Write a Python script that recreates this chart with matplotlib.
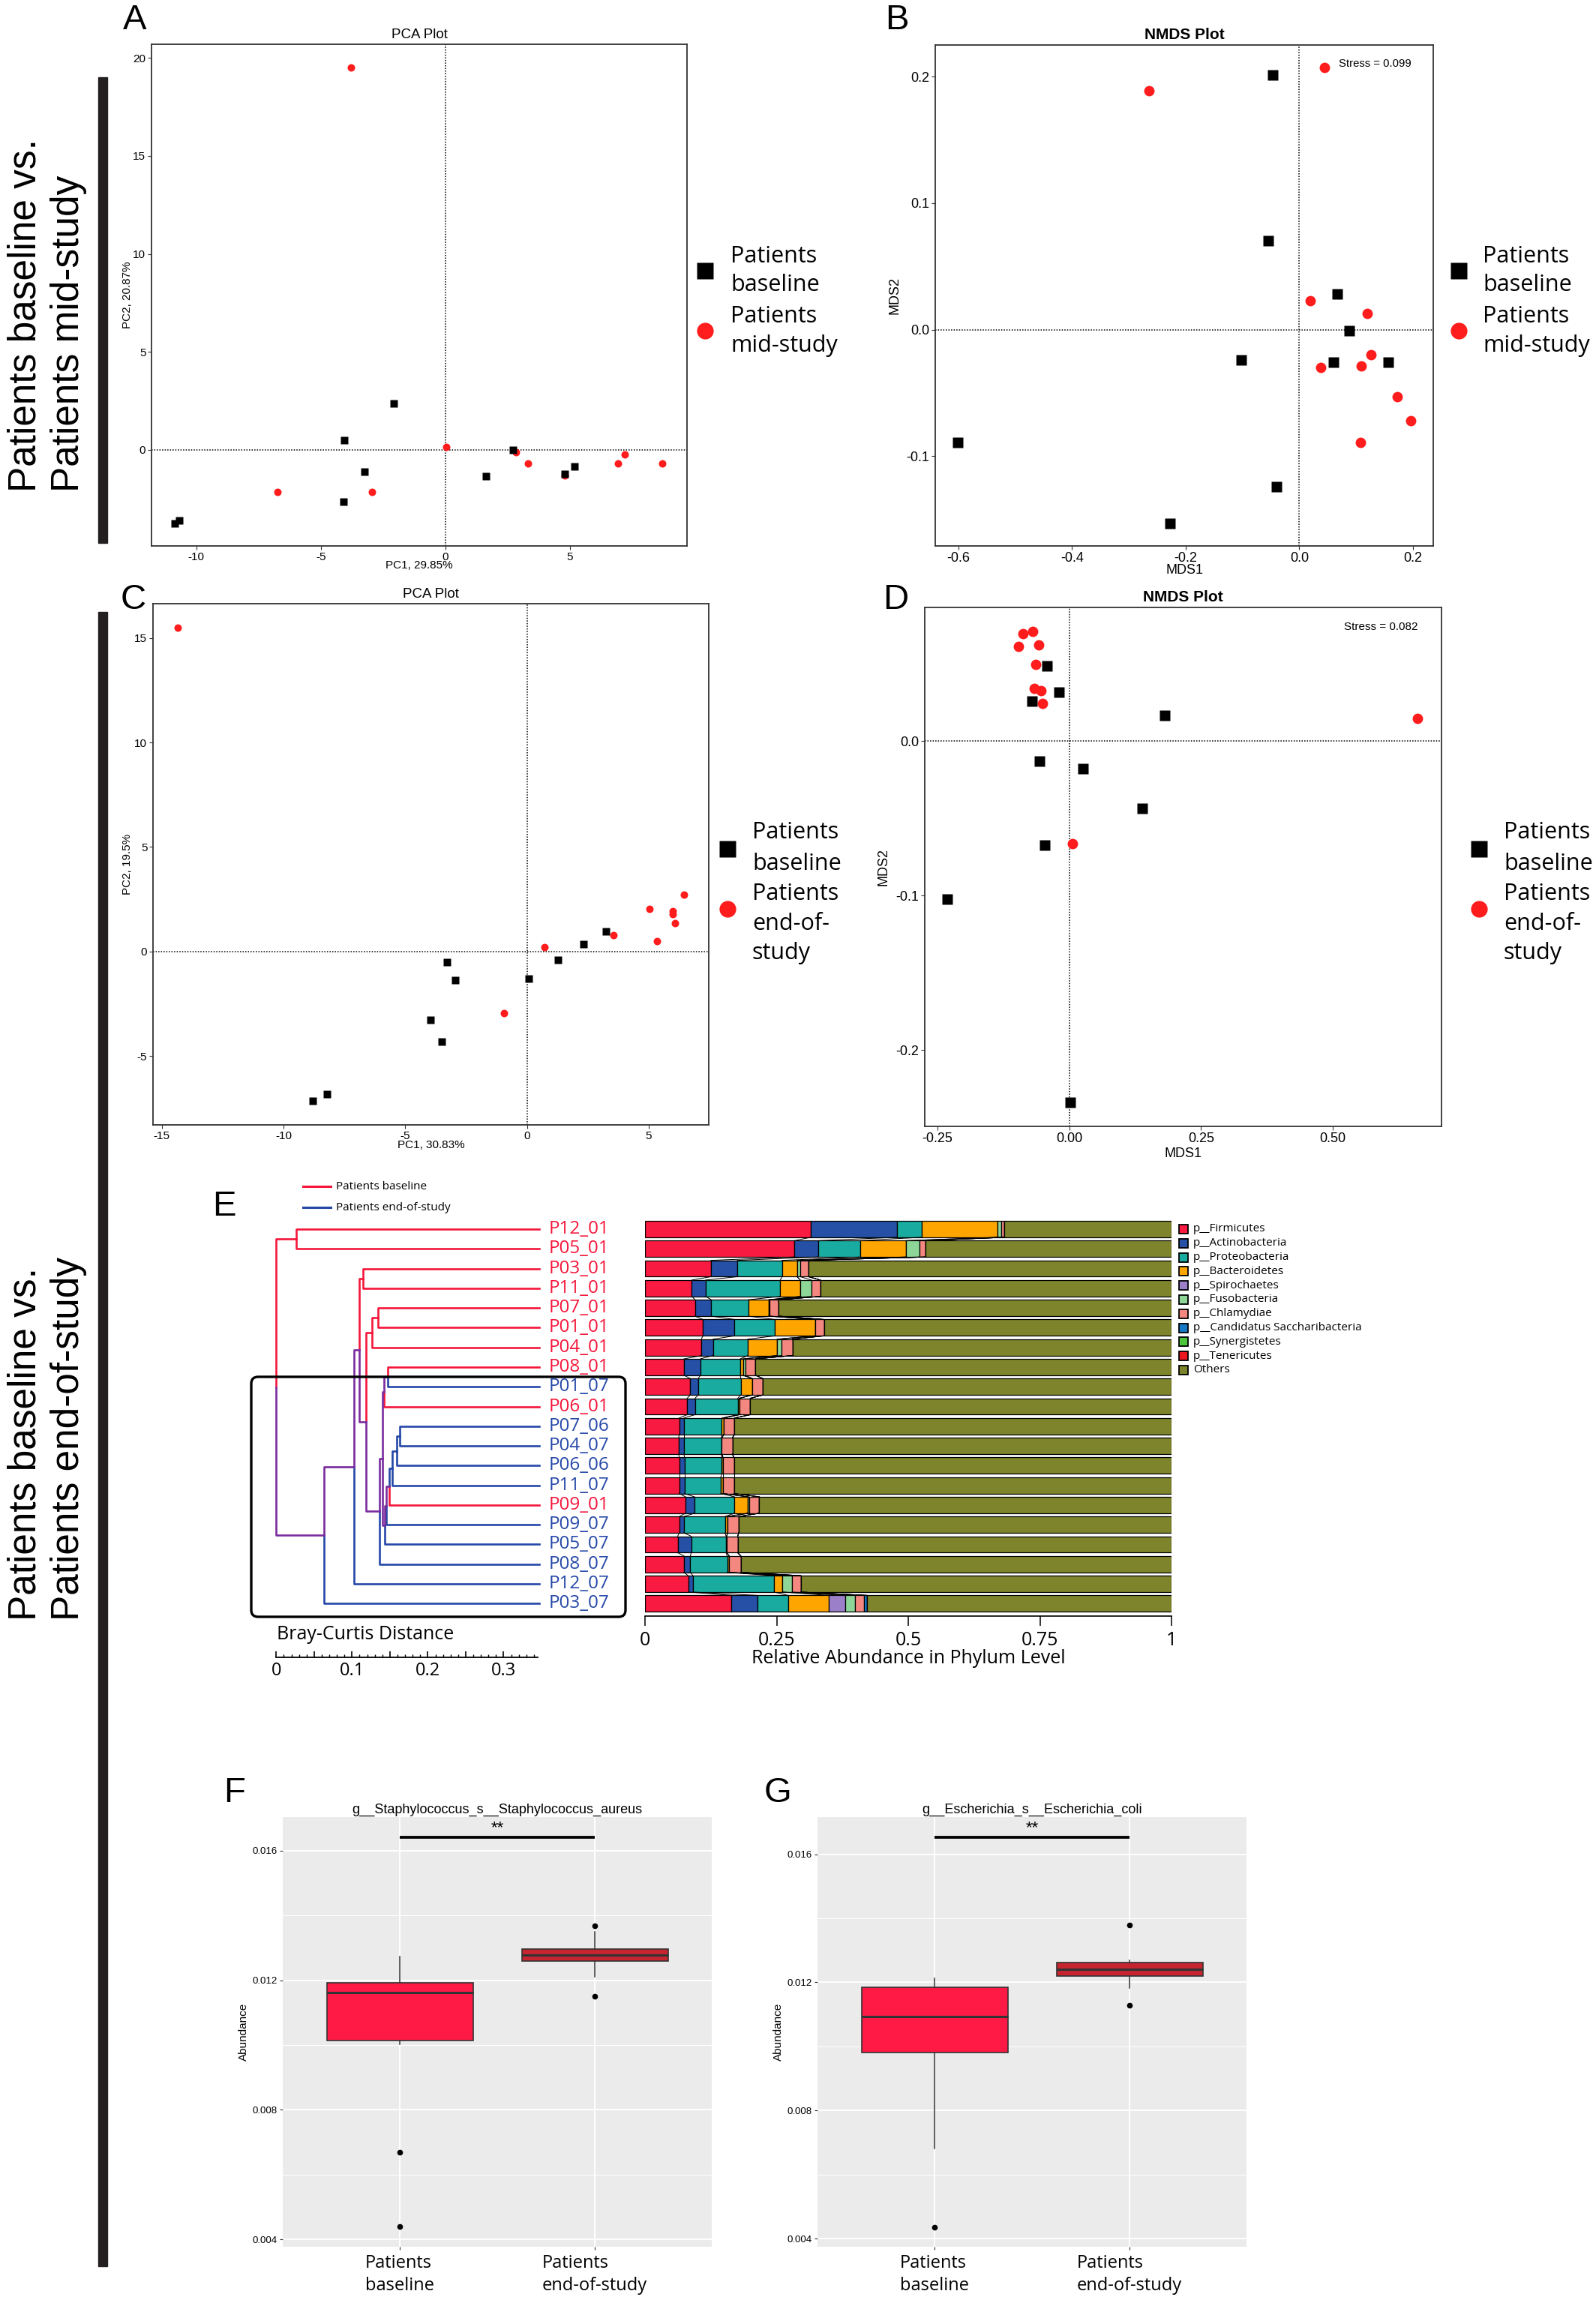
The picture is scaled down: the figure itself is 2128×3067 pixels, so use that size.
import numpy as np
import matplotlib
matplotlib.use("Agg")
import matplotlib.pyplot as plt
from matplotlib.patches import FancyBboxPatch, Rectangle

W, H = 2128, 3067
plt.rcParams["font.family"] = ["Liberation Sans", "DejaVu Sans"]
plt.rcParams["axes.unicode_minus"] = False
OPEN = ["Open Sans", "DejaVu Sans"]

PT_RED = "#FF1C1C"
RED = "#F5173B"
BLUE = "#2548A8"
PURPLE = "#7A2C9E"

# ---------------- A: PCA baseline vs mid-study
a_base_x = [-10.86, -10.70, -4.05, -2.07, -3.25, -4.09, 1.62, 2.70, 4.79, 5.19]
a_base_y = [-3.74, -3.59, 0.49, 2.37, -1.13, -2.65, -1.33, 0.0, -1.22, -0.85]
a_mid_x = [-3.78, -6.75, -2.94, 0.04, 2.84, 3.31, 4.79, 6.93, 7.20, 8.71]
a_mid_y = [19.53, -2.16, -2.14, 0.15, -0.11, -0.70, -1.30, -0.70, -0.23, -0.70]

# ---------------- B: NMDS baseline vs mid-study
b_base_x = [-0.047, -0.054, 0.067, 0.088, -0.102, 0.060, 0.157, -0.602, -0.040, -0.227]
b_base_y = [0.201, 0.070, 0.028, -0.001, -0.024, -0.026, -0.026, -0.089, -0.124, -0.153]
b_mid_x = [0.044, -0.265, 0.019, 0.120, 0.126, 0.038, 0.109, 0.173, 0.196, 0.108]
b_mid_y = [0.207, 0.189, 0.023, 0.013, -0.020, -0.030, -0.029, -0.053, -0.072, -0.089]

# ---------------- C: PCA baseline vs end-of-study
c_base_x = [-8.79, -8.20, -3.97, -3.51, -3.28, -2.93, 0.08, 1.28, 2.34, 3.26]
c_base_y = [-7.16, -6.82, -3.27, -4.32, -0.52, -1.36, -1.30, -0.39, 0.36, 0.95]
c_end_x = [-14.35, -0.94, 0.73, 3.56, 5.04, 5.33, 6.00, 5.98, 6.09, 6.44]
c_end_y = [15.5, -2.95, 0.20, 0.77, 2.02, 0.48, 1.93, 1.77, 1.34, 2.73]

# ---------------- D: NMDS baseline vs end-of-study
d_base_x = [-0.042, -0.019, -0.071, 0.181, -0.057, 0.026, 0.138, -0.047, -0.231, 0.002]
d_base_y = [0.0488, 0.0316, 0.0258, 0.0169, -0.0128, -0.0176, -0.0437, -0.0671, -0.1024, -0.234]
d_end_x = [-0.069, -0.088, -0.096, -0.058, -0.063, -0.067, -0.053, -0.051, 0.661, 0.006]
d_end_y = [0.0713, 0.0696, 0.0616, 0.0626, 0.0498, 0.0343, 0.0326, 0.0244, 0.0150, -0.0664]

# ---------------- E: dendrogram + phylum bars
samples = ["P12_01", "P05_01", "P03_01", "P11_01", "P07_01", "P01_01", "P04_01",
           "P08_01", "P01_07", "P06_01", "P07_06", "P04_07", "P06_06", "P11_07",
           "P09_01", "P09_07", "P05_07", "P08_07", "P12_07", "P03_07"]
# merges: node, left child, right child, distance from root
merges = [
    ("n1", "P12_01", "P05_01", 0.0265),
    ("nA", "P03_01", "P11_01", 0.1145),
    ("nCC", "P07_01", "P01_01", 0.1345),
    ("nC", "nCC", "P04_01", 0.1265),
    ("n8", "P08_01", "P01_07", 0.147),
    ("n9", "n8", "P06_01", 0.1425),
    ("n16", "P07_06", "P04_07", 0.163),
    ("n15", "n16", "P06_06", 0.159),
    ("n14", "n15", "P11_07", 0.153),
    ("n13", "n14", "P09_01", 0.149),
    ("n12", "n13", "P09_07", 0.1455),
    ("n11", "n12", "P05_07", 0.1435),
    ("n10", "n9", "n11", 0.1405),
    ("n6", "n10", "P08_07", 0.1365),
    ("n5", "nC", "n6", 0.1185),
    ("n4", "nA", "n5", 0.110),
    ("n3", "n4", "P12_07", 0.1025),
    ("n2", "n3", "P03_07", 0.0633),
    ("root", "n1", "n2", 0.0),
]
LEAF_D = 0.347

phyla = ["p__Firmicutes", "p__Actinobacteria", "p__Proteobacteria", "p__Bacteroidetes",
         "p__Spirochaetes", "p__Fusobacteria", "p__Chlamydiae",
         "p__Candidatus Saccharibacteria", "p__Synergistetes", "p__Tenericutes", "Others"]
phyla_colors = ["#F81A40", "#2550A6", "#19ABA0", "#FFA500", "#9B7FC9", "#8ED698",
                "#F4877F", "#1579C6", "#4CC63A", "#EC1520", "#7E842C"]
firmicutes = [.315, .284, .125, .089, .095, .110, .107, .074, .086, .080, .065, .064, .065, .065, .077, .065, .062, .074, .082, .164]
actinobacteria = [.164, .045, .050, .026, .031, .060, .022, .031, .015, .015, .009, .010, .010, .010, .017, .009, .026, .012, .009, .050]
proteobacteria = [.046, .080, .085, .142, .070, .077, .066, .076, .081, .081, .072, .071, .071, .069, .076, .078, .066, .070, .154, .058]
bacteroidetes = [.145, .087, .029, .038, .039, .076, .056, .005, .022, .003, .004, .001, .002, .004, .025, .005, .001, .004, .016, .077]
spirochaetes = [0, 0, 0, 0, 0, 0, 0, 0, 0, 0, 0, 0, 0, 0, 0, 0, 0, 0, 0, .032]
fusobacteria = [.006, .025, .006, .021, .002, 0, .008, .005, 0, 0, 0, 0, 0, 0, .003, 0, 0, 0, .018, .018]
chlamydiae = [.006, .012, .016, .017, .017, .017, .021, .019, .020, .021, .020, .020, .021, .021, .019, .021, .021, .022, .017, .017]
saccharibacteria = [0, 0, 0, 0, 0, 0, 0, 0, 0, 0, 0, 0, 0, 0, 0, 0, 0, 0, 0, .006]
synergistetes = [0] * 20
tenericutes = [0] * 20
others = [.318, .467, .689, .667, .746, .660, .720, .790, .776, .800, .830, .834, .831, .831, .783, .822, .824, .818, .704, .578]

# ---------------- F / G: boxplots  (whislo, q1, median, q3, whishi)
groups = ["Patients\nbaseline", "Patients\nend-of-study"]
f_base = [0.01003, 0.01014, 0.01161, 0.01193, 0.01274]
f_base_out = [0.00668, 0.00440]
f_end = [0.01210, 0.01259, 0.01277, 0.01296, 0.01350]
f_end_out = [0.01369, 0.01150]
g_base = [0.00682, 0.00981, 0.01094, 0.01184, 0.01214]
g_base_out = [0.00437]
g_end = [0.01182, 0.01220, 0.01242, 0.01263, 0.01268]
g_end_out = [0.01378, 0.01128]

fig = plt.figure(figsize=(W / 100, H / 100), dpi=100)


def px_axes(l, t, r, b):
    return fig.add_axes([l / W, 1 - b / H, (r - l) / W, (b - t) / H])


def ordination(ax, bx, by, rx, ry, ms, title, bold, fs, xlabel, ylabel, xoff, yoff):
    ax.plot(rx, ry, "o", color=PT_RED, ms=ms, mec="none", ls="none", zorder=3)
    ax.plot(bx, by, "s", color="black", ms=ms + 0.5, mec="none", ls="none", zorder=3)
    ax.axhline(0, color="black", ls=(0, (1, 1.3)), lw=1.1, zorder=1)
    ax.axvline(0, color="black", ls=(0, (1, 1.3)), lw=1.1, zorder=1)
    for s in ax.spines.values():
        s.set_color("#333333")
        s.set_linewidth(1.3)
    ax.tick_params(length=3.5, width=0.8, color="#333333", labelsize=fs, pad=2)
    ax.set_title(title, fontsize=15 if bold else 13.5, fontweight="bold" if bold else "normal",
                 pad=6)
    ax.set_xlabel(xlabel, fontsize=fs, va="center")
    ax.set_ylabel(ylabel, fontsize=11 if not bold else 13, va="center")
    ax.xaxis.set_label_coords(0.5, xoff)
    ax.yaxis.set_label_coords(yoff, 0.5)


# A
ax = px_axes(202, 59, 916, 728)
ordination(ax, a_base_x, a_base_y, a_mid_x, a_mid_y, 7.2, "PCA Plot", False, 11,
           "PC1, 29.85%", "PC2, 20.87%", -0.039, -0.045)
ax.set_xlim(-11.8, 9.7)
ax.set_ylim(-4.9, 20.7)
ax.set_xticks([-10, -5, 0, 5])
ax.set_yticks([0, 5, 10, 15, 20])

# B
ax = px_axes(1247, 60, 1911, 728)
ordination(ax, b_base_x, b_base_y, b_mid_x, b_mid_y, 10, "NMDS Plot", True, 13,
           "MDS1", "MDS2", -0.049, -0.081)
ax.set_xlim(-0.641, 0.236)
ax.set_ylim(-0.171, 0.225)
ax.set_xticks([-0.6, -0.4, -0.2, 0.0, 0.2])
ax.set_yticks([-0.1, 0.0, 0.1, 0.2])
ax.xaxis.set_major_formatter("{x:.1f}")
ax.yaxis.set_major_formatter("{x:.1f}")
ax.text(0.069, 0.210, "Stress = 0.099", fontsize=10.7, va="center", ha="left")

# C
ax = px_axes(204, 805, 945, 1500)
ordination(ax, c_base_x, c_base_y, c_end_x, c_end_y, 7.2, "PCA Plot", False, 11,
           "PC1, 30.83%", "PC2, 19.5%", -0.039, -0.046)
ax.set_xlim(-15.36, 7.47)
ax.set_ylim(-8.30, 16.64)
ax.set_xticks([-15, -10, -5, 0, 5])
ax.set_yticks([-5, 0, 5, 10, 15])

# D
ax = px_axes(1233, 810, 1922, 1502)
ordination(ax, d_base_x, d_base_y, d_end_x, d_end_y, 10, "NMDS Plot", True, 13,
           "MDS1", "MDS2", -0.053, -0.080)
ax.set_xlim(-0.274, 0.706)
ax.set_ylim(-0.2495, 0.0867)
ax.set_xticks([-0.25, 0.0, 0.25, 0.5])
ax.set_yticks([-0.2, -0.1, 0.0])
ax.xaxis.set_major_formatter("{x:.2f}")
ax.yaxis.set_major_formatter("{x:.1f}")
ax.text(0.661, 0.0739, "Stress = 0.082", fontsize=11, va="center", ha="right")

# ---------------- E
row_top = 1639 - 13.14
row_bot = 1639 + 26.28 * 19 + 13.14
rows = np.arange(len(samples))
leaf_row = {s: i for i, s in enumerate(samples)}
leaf_col = {s: (RED if s.endswith("_01") else BLUE) for s in samples}
tree = {m[0]: m[1:] for m in merges}

ax_d = px_axes(368.3, row_top, 719, row_bot)
ax_d.set_xlim(0, LEAF_D)
ax_d.set_ylim(len(samples) - 0.5, -0.5)
ax_d.axis("off")


def draw_node(name):
    if name in leaf_row:
        return LEAF_D, leaf_row[name], leaf_col[name]
    left, right, d = tree[name]
    pts = [draw_node(c) for c in (left, right)]
    y = (pts[0][1] + pts[1][1]) / 2
    col = pts[0][2] if pts[0][2] == pts[1][2] else PURPLE
    for cx, cy, cc in pts:
        ax_d.plot([d, d, cx], [y, cy, cy], color=cc, lw=1.9, clip_on=False,
                  solid_joinstyle="round")
    return d, y, col


draw_node("root")
for s in samples:
    ax_d.annotate(s, (LEAF_D, leaf_row[s]), xytext=(9, 0), textcoords="offset points",
                  va="center", ha="left", fontsize=17.5, color=leaf_col[s],
                  family=OPEN, annotation_clip=False)

# distance scale
ax_s = px_axes(368.3, 2190, 719, 2210)
ax_s.set_xlim(0, LEAF_D)
for k in ["top", "left", "right"]:
    ax_s.spines[k].set_visible(False)
ax_s.spines["bottom"].set_bounds(0, 0.345)
ax_s.spines["bottom"].set_linewidth(1.3)
ax_s.set_yticks([])
ax_s.set_xticks(np.arange(0, 0.301, 0.05))
ax_s.set_xticklabels(["0", "", "0.1", "", "0.2", "", "0.3"], family=OPEN, fontsize=17)
ax_s.set_xticks(np.arange(0.01, 0.345, 0.01), minor=True)
ax_s.tick_params(axis="x", which="major", direction="in", length=6, width=1.2, pad=4)
ax_s.tick_params(axis="x", which="minor", direction="in", length=3, width=1.0)
ax_s.patch.set_visible(False)

# bars
ax_b = px_axes(860, row_top, 1562, row_bot)
series = [firmicutes, actinobacteria, proteobacteria, bacteroidetes, spirochaetes,
          fusobacteria, chlamydiae, saccharibacteria, synergistetes, tenericutes, others]
bh = 0.83
left = np.zeros(len(samples))
bounds = []
for vals, col in zip(series, phyla_colors):
    vals = np.array(vals)
    ax_b.barh(rows, vals, left=left, height=bh, color=col, edgecolor="black", lw=0.9)
    left = left + vals
    bounds.append(left.copy())
for bnd in bounds[:-1]:
    for i in range(len(samples) - 1):
        ax_b.plot([bnd[i], bnd[i + 1]], [i + bh / 2, i + 1 - bh / 2], color="black", lw=0.7)
ax_b.set_xlim(0, 1)
ax_b.set_ylim(len(samples) - 0.5, -0.5)
for k in ["top", "left", "right"]:
    ax_b.spines[k].set_visible(False)
ax_b.spines["bottom"].set_position(("outward", 2.6))
ax_b.spines["bottom"].set_linewidth(1.2)
ax_b.set_yticks([])
ax_b.set_xticks([0, 0.25, 0.5, 0.75, 1])
ax_b.set_xticklabels(["0", "0.25", "0.5", "0.75", "1"], family=OPEN, fontsize=18)
ax_b.tick_params(axis="x", length=9, width=1.1, pad=5)
ax_b.set_xlabel("Relative Abundance in Phylum Level", family=OPEN, fontsize=18, va="center")
ax_b.xaxis.set_label_coords(0.5, -(2212 - row_bot) / (row_bot - row_top))
ax_b.patch.set_visible(False)


# ---------------- F / G
def boxpanel(ax, base, base_out, end, end_out, title, sig_y):
    stats = []
    for q, out in ((base, base_out), (end, end_out)):
        stats.append(dict(whislo=q[0], q1=q[1], med=q[2], q3=q[3], whishi=q[4], fliers=out))
    bp = ax.bxp(stats, positions=[1, 2], widths=0.75, patch_artist=True, showcaps=False,
                boxprops=dict(edgecolor="#333333", lw=1.2),
                medianprops=dict(color="#333333", lw=2.2),
                whiskerprops=dict(color="#333333", lw=1.1),
                flierprops=dict(marker="o", markerfacecolor="black", markeredgecolor="black",
                                markersize=4.5))
    bp["boxes"][0].set_facecolor("#FF1A46")
    bp["boxes"][1].set_facecolor("#C62530")
    ax.set_facecolor("#EBEBEB")
    ax.set_xlim(0.4, 2.6)
    ax.set_yticks([0.004, 0.008, 0.012, 0.016])
    ax.set_yticks([0.006, 0.010, 0.014], minor=True)
    ax.yaxis.set_major_formatter("{x:.3f}")
    ax.grid(which="major", color="white", lw=1.4)
    ax.grid(which="minor", axis="y", color="white", lw=0.7)
    ax.set_axisbelow(True)
    for s in ax.spines.values():
        s.set_visible(False)
    ax.tick_params(axis="y", which="major", length=3, color="#333333", labelsize=9.5, pad=2)
    ax.tick_params(axis="y", which="minor", length=0)
    ax.tick_params(axis="x", length=3, color="#333333", pad=4)
    ax.set_xticks([1, 2])
    ax.set_xticklabels(groups, family=OPEN, fontsize=17, linespacing=1.33,
                       multialignment="left")
    ax.set_ylabel("Abundance", fontsize=11, va="center")
    ax.yaxis.set_label_coords(-0.091, 0.5)
    ax.set_title(title, fontsize=13, pad=4)
    ax.plot([1, 2], [sig_y, sig_y], color="black", lw=2.7, solid_capstyle="butt")
    ax.text(1.5, sig_y + 0.00003, "**", ha="center", va="bottom", fontsize=16)


ax = px_axes(377, 2423, 949, 2996)
boxpanel(ax, f_base, f_base_out, f_end, f_end_out,
         "g__Staphylococcus_s__Staphylococcus_aureus", 0.01642)
ax.set_ylim(0.00377, 0.01704)

ax = px_axes(1090, 2423, 1662, 2996)
boxpanel(ax, g_base, g_base_out, g_end, g_end_out,
         "g__Escherichia_s__Escherichia_coli", 0.01653)
ax.set_ylim(0.00375, 0.01716)

# ---------------- overlay in pixel coordinates (labels, legends, bars, box)
ov = fig.add_axes([0, 0, 1, 1])
ov.set_xlim(0, W)
ov.set_ylim(H, 0)
ov.axis("off")
ov.patch.set_visible(False)

for lx, ly, s in [(180, 27, "A"), (1196, 27, "B"), (178, 800, "C"), (1194, 800, "D"),
                  (299, 1609, "E"), (313, 2391, "F"), (1037, 2391, "G")]:
    ov.text(lx, ly, s, fontsize=34, ha="center", va="center")

ov.add_patch(Rectangle((131, 103), 12, 621, color="#231F20"))
ov.add_patch(Rectangle((131, 816), 12, 2206, color="#231F20"))
for y0, l1, l2 in [(656, "Patients baseline vs.", "Patients mid-study"),
                   (2161, "Patients baseline vs.", "Patients end-of-study")]:
    ov.text(47.5, y0, l1, rotation=90, rotation_mode="anchor", ha="left", va="baseline",
            fontsize=37)
    ov.text(105, y0, l2, rotation=90, rotation_mode="anchor", ha="left", va="baseline",
            fontsize=37)

# group legends for A-D, one text line at a time
legend_ab = ["Patients", "baseline", "Patients", "mid-study"]
legend_cd = ["Patients", "baseline", "Patients", "end-of-", "study"]
for mx, tx in [(940, 974), (1945, 1977)]:
    ov.plot([mx], [361], "s", color="black", ms=16, mec="none")
    ov.plot([mx], [441], "o", color=PT_RED, ms=16, mec="none")
    for txt, ty in zip(legend_ab, [339, 378, 420, 459]):
        ov.text(tx, ty + 10.5, txt, family=OPEN, fontsize=22, va="baseline")
for mx, tx in [(970, 1003), (1972, 2005)]:
    ov.plot([mx], [1132], "s", color="black", ms=16, mec="none")
    ov.plot([mx], [1212], "o", color=PT_RED, ms=16, mec="none")
    for txt, ty in zip(legend_cd, [1108, 1149, 1189, 1229, 1269]):
        ov.text(tx, ty + 10.5, txt, family=OPEN, fontsize=22, va="baseline")

# E: group legend, box, scale title, phylum legend
ov.plot([404, 441], [1582, 1582], color=RED, lw=2.2)
ov.plot([404, 441], [1610, 1610], color=BLUE, lw=2.2)
ov.text(448, 1582, "Patients baseline", family=OPEN, fontsize=11, va="center")
ov.text(448, 1610, "Patients end-of-study", family=OPEN, fontsize=11, va="center")
ov.add_patch(FancyBboxPatch((335, 1836), 499, 320, boxstyle="round,pad=0,rounding_size=9",
                            fill=False, edgecolor="black", lw=2.4))
ov.text(369, 2179, "Bray-Curtis Distance", family=OPEN, fontsize=18, va="center")
for k, (name, col) in enumerate(zip(phyla, phyla_colors)):
    yk = 1639 + 18.8 * k
    ov.plot([1578], [yk], "s", color=col, ms=9, mec="black", mew=1.3)
    ov.text(1591, yk, name, family=OPEN, fontsize=11, va="center")

fig.savefig("out.png", dpi=100)
